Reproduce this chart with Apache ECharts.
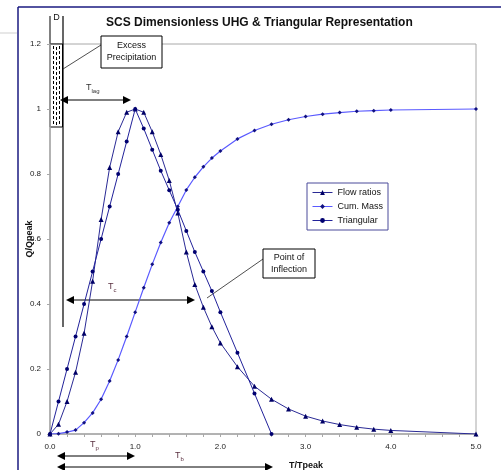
<!DOCTYPE html>
<html>
<head>
<meta charset="utf-8">
<script src="https://cdn.jsdelivr.net/npm/echarts@6/dist/echarts.min.js"></script>
<style>
  html, body { margin: 0; padding: 0; background: #fff; }
  #chart { width: 501px; height: 470px; }
</style>
</head>
<body>
<div id="chart"></div>
<script>
// t / tpeak values shared by the SCS table
const tRatio = [0, 0.1, 0.2, 0.3, 0.4, 0.5, 0.6, 0.7, 0.8, 0.9, 1.0, 1.1, 1.2, 1.3, 1.4, 1.5, 1.6, 1.7, 1.8, 1.9, 2.0,
  2.2, 2.4, 2.6, 2.8, 3.0, 3.2, 3.4, 3.6, 3.8, 4.0, 5.0];
// q / qpeak of the dimensionless unit hydrograph
const flowRatios = [0, 0.03, 0.10, 0.19, 0.31, 0.47, 0.66, 0.82, 0.93, 0.99, 1.00, 0.99, 0.93, 0.86, 0.78, 0.68, 0.56, 0.46, 0.39, 0.33, 0.28,
  0.207, 0.147, 0.107, 0.077, 0.055, 0.04, 0.029, 0.021, 0.015, 0.011, 0];
// cumulative mass ratio
const cumMass = [0, 0.001, 0.006, 0.012, 0.035, 0.065, 0.107, 0.163, 0.228, 0.300, 0.375, 0.450, 0.522, 0.589, 0.650, 0.700, 0.751, 0.790, 0.822, 0.849, 0.871,
  0.908, 0.934, 0.953, 0.967, 0.977, 0.984, 0.989, 0.993, 0.995, 0.997, 1.000];
// triangular representation
const triX = [0, 0.1, 0.2, 0.3, 0.4, 0.5, 0.6, 0.7, 0.8, 0.9, 1.0, 1.1, 1.2, 1.3, 1.4, 1.5, 1.6, 1.7, 1.8, 1.9, 2.0, 2.2, 2.4, 2.6];
const triY = [0, 0.1, 0.2, 0.3, 0.4, 0.5, 0.6, 0.7, 0.8, 0.9, 1.0, 0.94, 0.875, 0.81, 0.75, 0.69, 0.625, 0.56, 0.5, 0.44, 0.375, 0.25, 0.125, 0];

const FONT = "Liberation Sans";

const pairs = (xs, ys) => xs.map((x, i) => [x, ys[i]]);

// small filled arrow heads for the dimension arrows
function arrow(x1, x2, y) {
  return [
    { type: "line", shape: { x1: x1 + 5, y1: y, x2: x2 - 5, y2: y }, style: { stroke: "#000", lineWidth: 1 } },
    { type: "polygon", shape: { points: [[x1, y], [x1 + 8, y - 4], [x1 + 8, y + 4]] }, style: { fill: "#000" } },
    { type: "polygon", shape: { points: [[x2, y], [x2 - 8, y - 4], [x2 - 8, y + 4]] }, style: { fill: "#000" } },
  ];
}

function subLabel(x, y, sub, color) {
  return {
    type: "text", x: x, y: y,
    style: {
      text: "T{s|" + sub + "}", fill: color, font: "9px " + FONT,
      rich: { s: { fontSize: 6, fill: color, verticalAlign: "bottom", padding: [6, 0, 0, 0] } },
      verticalAlign: "middle",
    },
  };
}

function box(x, y, w, h, text) {
  return [
    { type: "rect", shape: { x: x, y: y, width: w, height: h }, style: { fill: "#fff", stroke: "#000", lineWidth: 1 } },
    { type: "text", x: x + w / 2, y: y + h / 2,
      style: { text: text, font: "9px " + FONT, fill: "#111", align: "center", verticalAlign: "middle", lineHeight: 12 } },
  ];
}

const chart = echarts.init(document.getElementById("chart"));

const graphics = [
  // outer frame of the slide
  { type: "line", shape: { x1: 18, y1: 7, x2: 501, y2: 7 }, style: { stroke: "#1a1a80", lineWidth: 1.5 } },
  { type: "line", shape: { x1: 18, y1: 7, x2: 18, y2: 470 }, style: { stroke: "#1a1a80", lineWidth: 1.5 } },
  { type: "line", shape: { x1: 0, y1: 33, x2: 17, y2: 33 }, style: { stroke: "#cfcfcf", lineWidth: 1 } },
  // excess precipitation bar
  { type: "rect", shape: { x: 50, y: 44, width: 12.5, height: 83 }, style: { fill: "#fff", stroke: "#000", lineWidth: 1 } },
  { type: "line", shape: { x1: 53.5, y1: 46, x2: 53.5, y2: 126 }, style: { stroke: "#000", lineWidth: 1, lineDash: [3, 2] } },
  { type: "line", shape: { x1: 56.5, y1: 47, x2: 56.5, y2: 126 }, style: { stroke: "#000", lineWidth: 1, lineDash: [3, 2] } },
  { type: "line", shape: { x1: 59.5, y1: 46, x2: 59.5, y2: 126 }, style: { stroke: "#000", lineWidth: 1, lineDash: [3, 2] } },
  // D marks
  { type: "line", shape: { x1: 50, y1: 16, x2: 50, y2: 44 }, style: { stroke: "#000", lineWidth: 1 } },
  { type: "line", shape: { x1: 63, y1: 16, x2: 63, y2: 327 }, style: { stroke: "#000", lineWidth: 1.2 } },
  { type: "text", x: 56.5, y: 18, style: { text: "D", font: "9px " + FONT, fill: "#111", align: "center", verticalAlign: "middle" } },
  // callouts
  { type: "line", shape: { x1: 101, y1: 45, x2: 63, y2: 69 }, style: { stroke: "#222", lineWidth: 0.8 } },
  ...box(101, 36, 61, 32, "Excess\nPrecipitation"),
  { type: "line", shape: { x1: 263, y1: 259, x2: 207, y2: 298 }, style: { stroke: "#222", lineWidth: 0.8 } },
  ...box(263, 249, 52, 29, "Point of\nInflection"),
  // time arrows
  ...arrow(60, 131, 100),
  subLabel(86, 88, "lag", "#333"),
  ...arrow(66, 195, 300),
  subLabel(108, 287, "c", "#5a3040"),
  ...arrow(57, 135, 456),
  subLabel(90, 445, "p", "#5a3040"),
  ...arrow(57, 273, 467),
  subLabel(175, 456, "b", "#5a3040"),
];

chart.setOption({
  animation: false,
  title: {
    text: "SCS Dimensionless UHG & Triangular Representation",
    left: 101,
    top: 12,
    textStyle: { fontSize: 12, fontWeight: "bold", fontFamily: FONT, color: "#111" },
  },
  grid: {
    left: 50, right: 25, top: 44, bottom: 36,
    outerBoundsMode: "none",
    containLabel: false,
    show: true, borderColor: "#a8a8a8", borderWidth: 1,
  },
  legend: {
    orient: "vertical",
    left: 307,
    top: 183,
    itemWidth: 20,
    itemHeight: 6,
    itemGap: 5,
    padding: [5, 5, 5, 5],
    borderColor: "#4a4a9a",
    borderWidth: 1,
    backgroundColor: "#fff",
    lineStyle: { width: 1 },
    textStyle: { fontSize: 9, fontFamily: FONT, color: "#111" },
    data: ["Flow ratios", "Cum. Mass", "Triangular"],
  },
  xAxis: {
    type: "value",
    min: 0,
    max: 5,
    interval: 0.2,
    name: "T/Tpeak",
    nameLocation: "middle",
    nameGap: 27,
    nameMoveOverlap: false,
    nameTextStyle: { fontSize: 9, fontWeight: "bold", fontFamily: FONT, color: "#111", padding: [0, 0, 0, 86] },
    axisLine: { lineStyle: { color: "#a8a8a8", width: 1.5 } },
    axisTick: { length: 3, lineStyle: { color: "#a8a8a8" } },
    axisLabel: {
      fontSize: 8, fontFamily: FONT, color: "#222", margin: 9,
      formatter: v => (Math.abs(v - Math.round(v)) < 1e-6 ? v.toFixed(1) : ""),
    },
    splitLine: { show: false },
  },
  yAxis: {
    type: "value",
    min: 0,
    max: 1.2,
    interval: 0.2,
    name: "Q/Qpeak",
    nameLocation: "middle",
    nameGap: 16,
    nameMoveOverlap: false,
    nameTextStyle: { fontSize: 9, fontWeight: "bold", fontFamily: FONT, color: "#111" },
    axisLine: { show: true, lineStyle: { color: "#a8a8a8", width: 1.5 } },
    axisTick: { show: true, length: 3, lineStyle: { color: "#a8a8a8" } },
    axisLabel: { fontSize: 8, fontFamily: FONT, color: "#222", margin: 9 },
    splitLine: { show: false },
  },
  series: [
    {
      name: "Flow ratios",
      type: "line",
      data: pairs(tRatio, flowRatios),
      symbol: "triangle",
      symbolSize: 5,
      lineStyle: { color: "#2a2a95", width: 1 },
      itemStyle: { color: "#000066" },
      z: 3,
    },
    {
      name: "Cum. Mass",
      type: "line",
      data: pairs(tRatio, cumMass),
      symbol: "diamond",
      symbolSize: 4,
      lineStyle: { color: "#5a5aff", width: 1.2 },
      itemStyle: { color: "#101080" },
      z: 2,
    },
    {
      name: "Triangular",
      type: "line",
      data: pairs(triX, triY),
      symbol: "circle",
      symbolSize: 4,
      lineStyle: { color: "#22229a", width: 1 },
      itemStyle: { color: "#000070" },
      z: 4,
    },
  ],
  graphic: graphics,
});
</script>
</body>
</html>
